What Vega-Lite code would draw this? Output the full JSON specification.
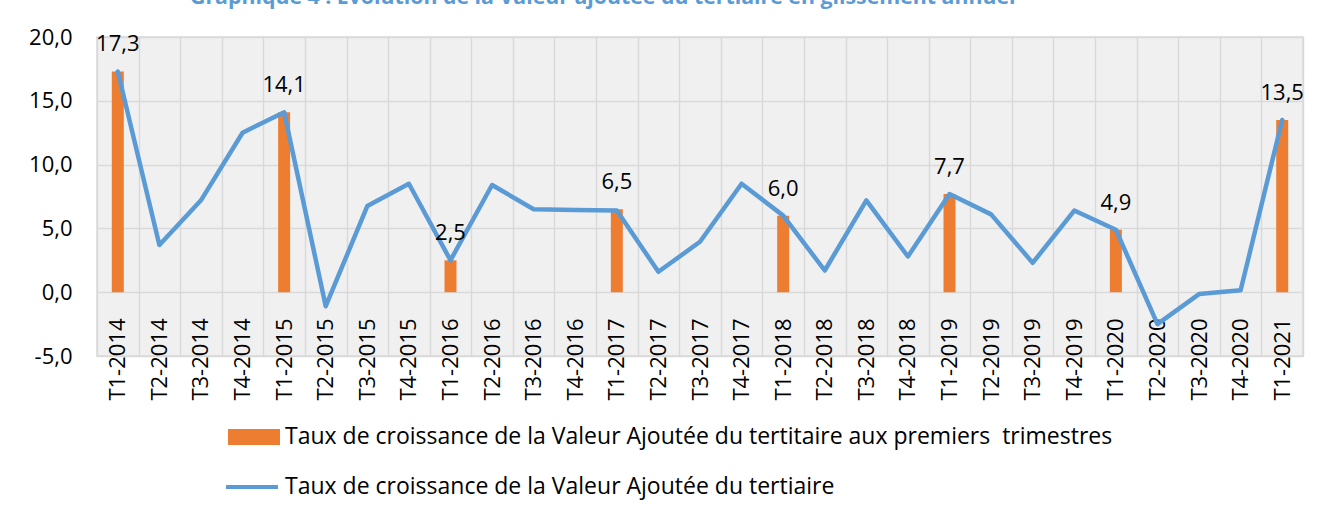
{
  "$schema": "https://vega.github.io/schema/vega-lite/v6.json",
  "width": 1206,
  "height": 319,
  "autosize": "none",
  "padding": {"left": 97, "top": 37, "right": 19, "bottom": 159},
  "background": "white",
  "title": {
    "text": "Graphique 4 : Evolution de la Valeur ajoutée du tertiaire en glissement annuel",
    "anchor": "start",
    "frame": "group",
    "dx": 93,
    "offset": 1,
    "baseline": "alphabetic",
    "font": "Open Sans",
    "fontSize": 21.3,
    "fontWeight": "bold",
    "color": "#5B9BD5"
  },
  "data": {
    "values": [
      {"trimestre": "T1-2014", "taux": 17.3, "premiers": 17.3},
      {"trimestre": "T2-2014", "taux": 3.7, "premiers": null},
      {"trimestre": "T3-2014", "taux": 7.2, "premiers": null},
      {"trimestre": "T4-2014", "taux": 12.5, "premiers": null},
      {"trimestre": "T1-2015", "taux": 14.1, "premiers": 14.1},
      {"trimestre": "T2-2015", "taux": -1.1, "premiers": null},
      {"trimestre": "T3-2015", "taux": 6.75, "premiers": null},
      {"trimestre": "T4-2015", "taux": 8.5, "premiers": null},
      {"trimestre": "T1-2016", "taux": 2.5, "premiers": 2.5},
      {"trimestre": "T2-2016", "taux": 8.4, "premiers": null},
      {"trimestre": "T3-2016", "taux": 6.5, "premiers": null},
      {"trimestre": "T4-2016", "taux": 6.45, "premiers": null},
      {"trimestre": "T1-2017", "taux": 6.4, "premiers": 6.5},
      {"trimestre": "T2-2017", "taux": 1.6, "premiers": null},
      {"trimestre": "T3-2017", "taux": 3.95, "premiers": null},
      {"trimestre": "T4-2017", "taux": 8.5, "premiers": null},
      {"trimestre": "T1-2018", "taux": 6.0, "premiers": 6.0},
      {"trimestre": "T2-2018", "taux": 1.7, "premiers": null},
      {"trimestre": "T3-2018", "taux": 7.2, "premiers": null},
      {"trimestre": "T4-2018", "taux": 2.8, "premiers": null},
      {"trimestre": "T1-2019", "taux": 7.7, "premiers": 7.7},
      {"trimestre": "T2-2019", "taux": 6.1, "premiers": null},
      {"trimestre": "T3-2019", "taux": 2.3, "premiers": null},
      {"trimestre": "T4-2019", "taux": 6.4, "premiers": null},
      {"trimestre": "T1-2020", "taux": 4.9, "premiers": 4.9},
      {"trimestre": "T2-2020", "taux": -2.5, "premiers": null},
      {"trimestre": "T3-2020", "taux": -0.15, "premiers": null},
      {"trimestre": "T4-2020", "taux": 0.15, "premiers": null},
      {"trimestre": "T1-2021", "taux": 13.5, "premiers": 13.5}
    ]
  },
  "encoding": {
    "x": {
      "field": "trimestre",
      "type": "nominal",
      "sort": null,
      "scale": {
        "domain": ["T1-2014", "T2-2014", "T3-2014", "T4-2014", "T1-2015", "T2-2015", "T3-2015", "T4-2015", "T1-2016", "T2-2016", "T3-2016", "T4-2016", "T1-2017", "T2-2017", "T3-2017", "T4-2017", "T1-2018", "T2-2018", "T3-2018", "T4-2018", "T1-2019", "T2-2019", "T3-2019", "T4-2019", "T1-2020", "T2-2020", "T3-2020", "T4-2020", "T1-2021"],
        "paddingInner": 0,
        "paddingOuter": 0
      },
      "axis": {
        "title": null,
        "tickBand": "extent",
        "grid": true,
        "gridColor": "#d9d9d9",
        "gridWidth": 1.5,
        "domain": false,
        "ticks": false,
        "tickSize": 0,
        "labelAngle": -90,
        "labelFont": "Open Sans",
        "labelFontSize": 22,
        "labelColor": "black",
        "labelPadding": 26,
        "offset": -64
      }
    }
  },
  "layer": [
    {
      "mark": {"type": "bar", "size": 12},
      "encoding": {
        "y": {
          "field": "premiers",
          "type": "quantitative",
          "scale": {"domain": [-5, 20], "nice": false, "zero": false},
          "axis": {
            "title": null,
            "values": [-5, 0, 5, 10, 15, 20],
            "format": ".1f",
            "grid": true,
            "gridColor": "#d9d9d9",
            "gridWidth": 1.5,
            "domain": false,
            "ticks": false,
            "tickSize": 0,
            "labelPadding": 25,
            "labelFont": "Open Sans",
            "labelFontSize": 22,
            "labelColor": "black"
          }
        },
        "fill": {
          "datum": "Taux de croissance de la Valeur Ajoutée du tertitaire aux premiers \u00a0trimestres",
          "scale": {"range": ["#ED7D31"]},
          "legend": {
            "legendX": 131,
            "legendY": 374,
            "symbolType": "M-1,-0.31H1V0.31H-1Z",
            "symbolStrokeWidth": 0
          }
        }
      }
    },
    {
      "mark": {"type": "line", "strokeWidth": 4.5, "strokeJoin": "round", "strokeCap": "round"},
      "encoding": {
        "y": {"field": "taux", "type": "quantitative"},
        "stroke": {
          "datum": "Taux de croissance de la Valeur Ajoutée du tertiaire",
          "scale": {"range": ["#5B9BD5"]},
          "legend": {
            "legendX": 127,
            "legendY": 422,
            "symbolType": "stroke",
            "symbolStrokeWidth": 4
          }
        }
      }
    },
    {
      "transform": [{"filter": "datum.premiers != null"}],
      "mark": {"type": "text", "dy": -27, "font": "Open Sans", "fontSize": 22, "color": "black", "baseline": "middle"},
      "encoding": {
        "y": {"field": "premiers", "type": "quantitative"},
        "text": {"field": "premiers", "type": "quantitative", "format": ".1f"}
      }
    }
  ],
  "config": {
    "locale": {
      "number": {"decimal": ",", "thousands": " ", "grouping": [3], "currency": ["", " €"], "minus": "-"}
    },
    "view": {"fill": "#f0f0f0", "stroke": "#d9d9d9", "strokeWidth": 1.5},
    "legend": {
      "orient": "none",
      "padding": 0,
      "title": null,
      "labelFont": "Open Sans",
      "labelFontSize": 23,
      "labelColor": "black",
      "labelLimit": 1200,
      "labelOffset": 5,
      "symbolSize": 2704
    }
  }
}
